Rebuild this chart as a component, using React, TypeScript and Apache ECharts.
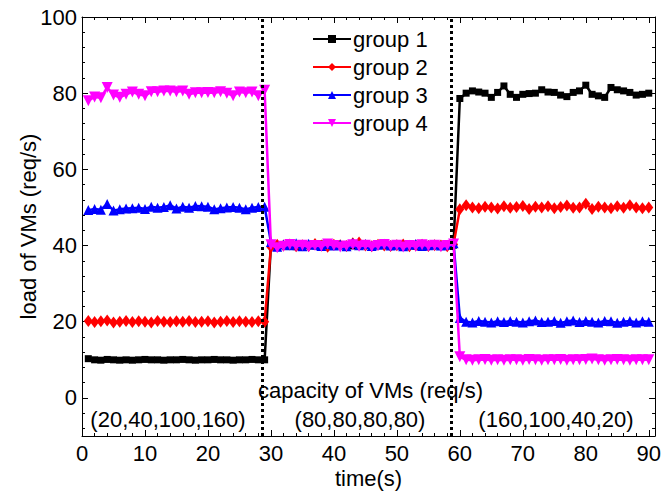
import React, { useEffect, useRef } from "react";
import * as echarts from "echarts";

const times = Array.from({ length: 90 }, (_, i) => i + 1);

const group1 = [
  10.3, 10.0, 9.9, 10.1, 10.0, 9.9, 10.0, 9.9, 10.0, 10.1, 10.0, 10.0, 9.9, 10.0, 10.0, 10.1, 10.0, 9.9, 10.0, 10.0, 10.1, 10.0, 10.0, 9.9, 10.0, 10.0, 10.1, 10.0, 10.0,
  40.3, 39.8, 40.2, 40.0, 39.7, 40.3, 40.1, 39.9, 40.4, 40.0, 39.8, 40.2, 40.1, 39.9, 40.3, 40.0, 39.8, 40.2, 40.1, 40.0, 39.9, 40.2, 40.0, 39.8, 40.1, 40.0, 40.2, 39.9, 40.0, 40.1,
  78.6, 80.0, 80.6, 80.3, 80.0, 78.9, 80.2, 81.9, 79.7, 78.9, 79.7, 79.9, 80.0, 80.9, 80.3, 80.2, 79.5, 79.1, 80.2, 80.6, 82.1, 79.7, 79.3, 78.9, 81.5, 80.9, 80.6, 80.2, 79.5, 79.7, 80.0,
];
const group2 = [
  20.2, 19.9, 20.1, 20.3, 19.8, 20.0, 20.2, 19.9, 20.1, 20.0, 19.8, 20.2, 20.0, 19.9, 20.1, 20.0, 20.2, 19.9, 20.0, 20.1, 19.8, 20.0, 20.2, 19.9, 20.1, 20.0, 19.9, 20.1, 20.0,
  39.6, 40.2, 40.0, 40.3, 39.8, 40.1, 39.9, 40.4, 40.0, 39.7, 40.2, 40.1, 39.9, 40.6, 40.8, 40.0, 39.8, 40.2, 40.0, 39.9, 40.1, 40.3, 39.8, 40.0, 40.2, 39.9, 40.1, 40.0, 39.8, 40.3,
  49.5, 50.6, 50.0, 49.8, 50.2, 50.0, 49.7, 50.3, 49.9, 50.1, 50.4, 49.6, 50.2, 50.0, 50.3, 49.8, 50.1, 50.5, 49.9, 50.0, 51.0, 49.6, 50.2, 50.0, 49.8, 50.3, 49.9, 50.6, 50.0, 49.8, 50.0,
];
const group3 = [
  49.3, 49.6, 49.4, 50.9, 49.2, 49.5, 49.7, 49.8, 49.9, 49.6, 50.2, 49.9, 50.1, 50.6, 49.7, 50.2, 49.9, 50.4, 50.3, 50.2, 49.5, 49.8, 50.0, 50.1, 49.9, 49.5, 49.9, 50.1, 50.2,
  40.9, 39.7, 40.3, 40.1, 40.6, 39.8, 40.5, 40.2, 39.9, 40.4, 40.0, 40.3, 39.8, 40.7, 40.1, 40.4, 39.9, 40.2, 40.5, 40.0, 40.3, 39.8, 40.2, 40.4, 39.9, 40.1, 40.3, 40.0, 40.2, 40.6,
  21.0, 20.0, 19.8, 20.2, 20.0, 19.8, 20.1, 19.9, 20.2, 20.0, 19.8, 20.1, 20.3, 19.9, 20.0, 20.2, 19.7, 20.1, 20.3, 19.9, 20.2, 20.0, 19.8, 20.2, 20.1, 19.7, 20.0, 20.2, 19.8, 20.1, 20.0,
];
const group4 = [
  78.0, 79.0, 78.8, 81.5, 79.5, 78.9, 79.7, 80.3, 79.7, 79.3, 80.4, 80.4, 80.6, 80.6, 80.4, 80.6, 79.7, 80.1, 80.1, 80.2, 80.1, 80.4, 80.0, 79.3, 80.3, 80.1, 80.3, 79.3, 80.8,
  40.2, 39.4, 39.8, 40.3, 39.9, 40.1, 39.7, 40.0, 39.8, 40.4, 40.0, 39.6, 39.9, 40.2, 39.8, 40.1, 39.7, 40.0, 40.3, 39.9, 40.1, 39.6, 40.0, 39.8, 40.2, 39.9, 40.1, 39.7, 40.0, 40.4,
  10.8, 10.0, 9.9, 10.0, 10.1, 9.9, 10.0, 9.9, 10.0, 10.0, 9.9, 10.1, 10.0, 9.9, 10.0, 10.0, 10.1, 9.9, 10.0, 10.0, 10.1, 10.2, 10.0, 9.9, 10.0, 10.1, 10.0, 9.9, 10.0, 10.0, 10.0,
];

const seriesNames = ["group 1", "group 2", "group 3", "group 4"];
const xMajorTicks = [0, 10, 20, 30, 40, 50, 60, 70, 80, 90];
const xMinorTicks = [2, 4, 6, 8, 12, 14, 16, 18, 22, 24, 26, 28, 32, 34, 36, 38, 42, 44, 46, 48, 52, 54, 56, 58, 62, 64, 66, 68, 72, 74, 76, 78, 82, 84, 86, 88];
const yMajorTicks = [0, 20, 40, 60, 80, 100];
const yMinorTicks = [-8, -4, 4, 8, 12, 16, 24, 28, 32, 36, 44, 48, 52, 56, 64, 68, 72, 76, 84, 88, 92, 96];
const phaseBoundaries = [28.7, 58.7];
const capacityTitle = "capacity of VMs (req/s)";
const capacityLabels = ["(20,40,100,160)", "(80,80,80,80)", "(160,100,40,20)"];

const FONT = "Liberation Sans, Arial, Helvetica, sans-serif";

export default function App() {
  const ref = useRef<HTMLDivElement>(null);
  useEffect(() => {
    if (!ref.current) return;
    const chart = echarts.init(ref.current, null, { renderer: "svg" });
    const colors = ["#000000", "#ff0000", "#0000ff", "#ff00ff"];
    const symbols = ["rect", "diamond", "triangle", "path://M0,0 L10,0 L5,9 Z"];
    const sizes = [7, [9, 12], 10, 11];
    const data = [group1, group2, group3, group4];

    const mkX = (pos: string, values: number[], len: number, labels: boolean, line: boolean, extra: any = {}) => ({
      type: "value",
      position: pos,
      min: 0,
      max: 91,
      axisLine: { show: line, onZero: false, lineStyle: { color: "#000", width: 1 } },
      axisTick: { show: true, inside: true, length: len, customValues: values, lineStyle: { color: "#000" } },
      axisLabel: labels
        ? { show: true, customValues: xMajorTicks, fontSize: 22, color: "#000", fontFamily: FONT, margin: 6 }
        : { show: false },
      splitLine: { show: false },
      ...extra,
    });
    const mkY = (pos: string, values: number[], len: number, labels: boolean, line: boolean, extra: any = {}) => ({
      type: "value",
      position: pos,
      min: -10,
      max: 100,
      axisLine: { show: line, onZero: false, lineStyle: { color: "#000", width: 1 } },
      axisTick: { show: true, inside: true, length: len, customValues: values, lineStyle: { color: "#000" } },
      axisLabel: labels
        ? { show: true, customValues: yMajorTicks, fontSize: 22, color: "#000", fontFamily: FONT, margin: 5 }
        : { show: false },
      splitLine: { show: false },
      ...extra,
    });

    const series: any[] = data.map((vals, k) => ({
      name: seriesNames[k],
      type: "line",
      xAxisIndex: 0,
      yAxisIndex: 0,
      data: vals.map((v, i) => [times[i], v]),
      symbol: symbols[k],
      symbolSize: sizes[k],
      lineStyle: { color: colors[k], width: 2.5 },
      itemStyle: { color: colors[k] },
      z: 3 + k,
    }));
    series[0].markLine = {
      silent: true,
      symbol: "none",
      label: { show: false },
      lineStyle: { color: "#000", type: [3, 3], width: 3 },
      data: phaseBoundaries.map((b) => ({ xAxis: b })),
      z: 10,
    };

    chart.setOption({
      animation: false,
      backgroundColor: "#fff",
      textStyle: { fontFamily: FONT },
      grid: { left: 82, right: 2, top: 17, bottom: 53, containLabel: false },
      legend: {
        orient: "vertical",
        left: 307,
        top: 23,
        itemGap: 6,
        itemWidth: 38,
        itemHeight: 10,
        textStyle: { fontSize: 22, color: "#000", fontFamily: FONT, padding: [0, 0, 0, -3] },
        data: seriesNames,
      },
      xAxis: [
        mkX("bottom", xMajorTicks, 6, true, true, {
          name: "time(s)",
          nameLocation: "middle",
          nameGap: 31,
          nameMoveOverlap: false,
          nameTextStyle: { fontSize: 22, color: "#000", fontFamily: FONT },
        }),
        mkX("top", xMajorTicks, 6, false, true),
        mkX("bottom", xMinorTicks, 3, false, false),
        mkX("top", xMinorTicks, 3, false, false),
      ],
      yAxis: [
        mkY("left", yMajorTicks, 6, true, true, {
          name: "load of VMs (req/s)",
          nameLocation: "middle",
          nameGap: 43,
          nameMoveOverlap: false,
          nameTextStyle: { fontSize: 22, color: "#000", fontFamily: FONT },
        }),
        mkY("right", yMajorTicks, 6, false, true),
        mkY("left", yMinorTicks, 3, false, false),
        mkY("right", yMinorTicks, 3, false, false),
      ],
      graphic: [
        {
          type: "text",
          left: 258,
          top: 379,
          style: { text: capacityTitle, fontSize: 22, fill: "#000", fontFamily: FONT },
          z: 20,
        },
        ...capacityLabels.map((t, i) => ({
          type: "text",
          x: [168, 360, 556][i],
          y: 419,
          style: { text: t, fontSize: 22, fill: "#000", fontFamily: FONT, align: "center", verticalAlign: "middle" },
          z: 20,
        })),
      ],
      series,
    });
    return () => chart.dispose();
  }, []);
  return <div ref={ref} style={{ width: 664, height: 494, position: "absolute", left: 0, top: 0 }} />;
}
